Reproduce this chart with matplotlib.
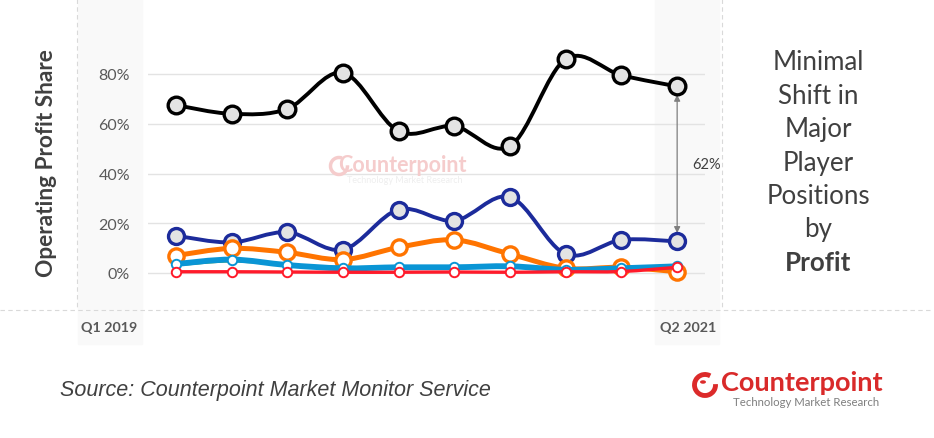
import matplotlib
matplotlib.use("Agg")
import matplotlib.pyplot as plt
import numpy as np
from matplotlib.path import Path
from matplotlib.patches import PathPatch, Rectangle, Arc, Circle
from matplotlib.lines import Line2D

# ---------------- data ----------------
quarters = ["Q1 2019", "Q2 2019", "Q3 2019", "Q4 2019", "Q1 2020",
            "Q2 2020", "Q3 2020", "Q4 2020", "Q1 2021", "Q2 2021"]
black_s = [67.5, 64.0, 66.0, 80.5, 57.0, 59.0, 51.0, 86.0, 79.5, 75.0]
blue_s = [15.0, 12.3, 16.4, 9.4, 25.5, 21.0, 30.5, 7.6, 13.3, 12.7]
orange_s = [7.0, 9.9, 8.3, 5.4, 10.3, 13.3, 7.6, 1.9, 2.3, 0.5]
green_s = [3.0, 4.6, 3.0, 1.5, 1.8, 2.0, 2.3, 1.0, 1.5, 3.0]
cyan_s = [3.6, 5.4, 3.2, 1.9, 2.3, 2.3, 2.7, 1.3, 1.9, 2.7]
red_s = [0.5, 0.5, 0.4, 0.3, 0.3, 0.4, 0.3, 0.5, 0.6, 2.3]
yticks = [0, 20, 40, 60, 80]
title_lines = ["Minimal", "Shift in", "Major", "Player", "Positions", "by", "Profit"]

W, H = 934, 439
fig = plt.figure(figsize=(W / 100, H / 100), dpi=100)
fig.patch.set_facecolor("white")

def fx(px):
    return px / W

def fy(py):
    return 1 - py / H

# background bands & dashed lines (figure coords)
fig.add_artist(Rectangle((fx(78), fy(345)), fx(142) - fx(78), fy(0) - fy(345),
                         transform=fig.transFigure, color="#f9f9f9", zorder=0))
fig.add_artist(Rectangle((fx(655), fy(345)), fx(719) - fx(655), fy(0) - fy(345),
                         transform=fig.transFigure, color="#f9f9f9", zorder=0))
fig.add_artist(Line2D([fx(77), fx(77)], [fy(0), fy(311)], transform=fig.transFigure,
                      color="#d9d9d9", lw=0.8, ls=(0, (4, 3)), zorder=1))
fig.add_artist(Line2D([fx(722), fx(722)], [fy(0), fy(311)], transform=fig.transFigure,
                      color="#d9d9d9", lw=0.8, ls=(0, (4, 3)), zorder=1))
fig.add_artist(Line2D([fx(0), fx(932)], [fy(311), fy(311)], transform=fig.transFigure,
                      color="#d9d9d9", lw=0.8, ls=(0, (4, 3)), zorder=1))

# main axes
ax_left, ax_right = 148, 705
ax_top, ax_bot = 20, 300
ax = fig.add_axes([fx(ax_left), fy(ax_bot), fx(ax_right) - fx(ax_left), fy(ax_top) - fy(ax_bot)])
ax.patch.set_alpha(0)
ax.set_xlim(-0.5, 9.5)
pxper = 49.75 / 20
ax.set_ylim(-(ax_bot - 274) / pxper, (274 - ax_top) / pxper)
for s in ax.spines.values():
    s.set_visible(False)
ax.set_xticks([])
ax.set_yticks(yticks)
ax.set_yticklabels([f"{v}%" for v in yticks], fontfamily="Lato", fontsize=11.5, color="#595959")
ax.tick_params(axis="y", length=0, pad=13)
for v in yticks:
    ax.axhline(v, color="#e3e3e3", lw=1.0, zorder=1)

x = np.arange(len(quarters))

def smooth_path(xs, ys):
    pts = np.column_stack([xs, ys]).astype(float)
    n = len(pts)
    verts = [pts[0]]
    codes = [Path.MOVETO]
    for i in range(n - 1):
        p0 = pts[i - 1] if i > 0 else pts[i]
        p1 = pts[i]
        p2 = pts[i + 1]
        p3 = pts[i + 2] if i + 2 < n else pts[i + 1]
        c1 = p1 + (p2 - p0) / 6.0
        c2 = p2 - (p3 - p1) / 6.0
        verts += [c1, c2, p2]
        codes += [Path.CURVE4] * 3
    return Path(verts, codes)

def series(vals, color, lw, ms, mew, mfc, z, marker=True):
    ax.add_patch(PathPatch(smooth_path(x, vals), fill=False, edgecolor=color, lw=lw,
                           zorder=z, capstyle="round", joinstyle="round"))
    if marker:
        ax.plot(x, vals, ls="none", marker="o", ms=ms, mfc=mfc, mec=color, mew=mew, zorder=z + 0.5)

series(black_s, "#000000", 2.8, 12.0, 2.4, "#e3e3e3", 5)
series(blue_s, "#1c2b9b", 2.8, 11.5, 2.4, "#e3e3e3", 6)
series(orange_s, "#ff7400", 3.6, 11.0, 2.4, "white", 7)
series(green_s, "#2f9a4a", 1.4, 0, 0, "white", 7.8, marker=False)
series(cyan_s, "#0a95d5", 4.2, 6.8, 1.4, "white", 8)
series(red_s, "#ff1a2a", 2.4, 6.8, 1.4, "white", 9)

# arrow between leaders
ax.annotate("", xy=(9, blue_s[-1]), xytext=(9, black_s[-1]),
            arrowprops=dict(arrowstyle="<|-|>", color="#7f7f7f", lw=0.9,
                            shrinkA=6, shrinkB=6, mutation_scale=9), zorder=4)
ax.text(9.52, (274 - 165) / pxper, f"{black_s[-1] - blue_s[-1]:.0f}%", ha="center", va="center",
        fontfamily="Lato", fontsize=10.5, color="#404040")

# watermark
fig.text(fx(402), fy(166), "Counterpoint", ha="center", va="center", fontfamily="Lato",
         fontweight="bold", fontsize=15.5, color="#f5cccc", zorder=2)
fig.text(fx(405), fy(181), "Technology Market Research", ha="center", va="center",
         fontfamily="Lato", fontsize=6.5, color="#eeeeee", zorder=2)
fig.add_artist(Arc((fx(339), fy(167)), 17 / W, 17 / H, theta1=80, theta2=370,
                   transform=fig.transFigure, color="#f5cccc", lw=2.5, zorder=2))

# y label
fig.text(fx(47), fy(163), "Operating Profit Share", rotation=90, ha="center", va="center",
         fontfamily="Lato", fontweight="bold", fontsize=16.3, color="#404040")

# x end labels
fig.text(fx(109), fy(328), quarters[0], ha="center", va="center", fontfamily="Lato",
         fontweight="bold", fontsize=10.3, color="#595959")
fig.text(fx(688), fy(328), quarters[-1], ha="center", va="center", fontfamily="Lato",
         fontweight="bold", fontsize=10.3, color="#595959")

# right title
line_y = [63, 97, 130, 164, 197, 230, 263]
for t, yy in zip(title_lines, line_y):
    fig.text(fx(818), fy(yy), t, ha="center", va="center", fontfamily="Lato",
             fontsize=18.6, color="#404040", fontweight="bold" if t == "Profit" else "normal")

# source
fig.text(fx(60), fy(391), "Source: Counterpoint Market Monitor Service", ha="left", va="center",
         fontfamily="Liberation Sans", style="italic", fontsize=15.5, color="#404040")

# logo
fig.add_artist(Arc((fx(705), fy(386)), 21 / W, 21 / H, theta1=75, theta2=370,
                   transform=fig.transFigure, color="#dc2a2a", lw=3.5, zorder=3))
fig.add_artist(Circle((fx(703), fy(383)), 2.2 / W, transform=fig.transFigure,
                      color="#dc2a2a", zorder=3))
fig.text(fx(721), fy(383), "Counterpoint", ha="left", va="center", fontfamily="Lato",
         fontweight="bold", fontsize=19.5, color="#d92a2a")
fig.text(fx(733), fy(403), "Technology Market Research", ha="left", va="center",
         fontfamily="Lato", fontsize=8.2, color="#7f7f7f")

fig.savefig("out.png", dpi=100)
